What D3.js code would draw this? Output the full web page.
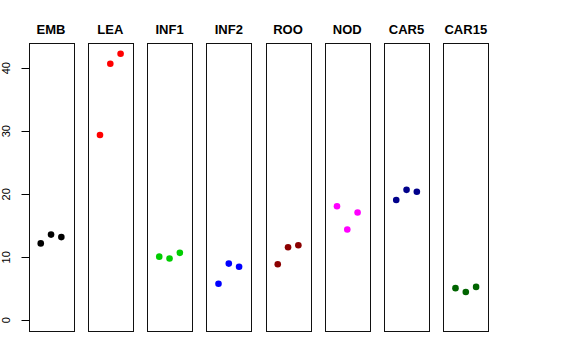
<!DOCTYPE html>
<html><head><meta charset="utf-8">
<script src="https://cdn.jsdelivr.net/npm/d3@7"></script>
<style>body{margin:0;background:#fff}svg{display:block}</style>
</head><body>
<script>
const categories = ["EMB","LEA","INF1","INF2","ROO","NOD","CAR5","CAR15"];
const colors = ["#000000","#FF0000","#00CD00","#0000FF","#8B0000","#FF00FF","#00008B","#006400"];
const values = [
  [12.2, 13.6, 13.2],
  [29.4, 40.7, 42.3],
  [10.1, 9.8, 10.7],
  [5.8, 9.0, 8.5],
  [8.9, 11.6, 11.9],
  [18.1, 14.4, 17.1],
  [19.1, 20.7, 20.4],
  [5.1, 4.5, 5.3]
];
const yTicks = [0, 10, 20, 30, 40];

const W = 576, H = 360;
const svg = d3.select("body").append("svg").attr("width", W).attr("height", H);

const plotTop = 43, plotBottom = 330.7;
const y = d3.scaleLinear().domain([-1.65, 44.0]).range([plotBottom, plotTop]);
const panelW = 44.7, step = 59.25, left0 = 28.7;

categories.forEach((cat, i) => {
  const x0 = left0 + i * step;
  const x = d3.scaleLinear().domain([-0.17, 4.17]).range([x0, x0 + panelW]);
  const g = svg.append("g");
  g.append("rect").attr("x", Math.round(x0) + 0.5).attr("y", Math.round(plotTop) + 0.5)
    .attr("width", Math.round(panelW)).attr("height", Math.round(plotBottom - plotTop))
    .attr("fill", "none").attr("stroke", "#111").attr("stroke-width", 1);
  g.append("text").attr("x", x0 + panelW / 2).attr("y", 34)
    .attr("text-anchor", "middle").attr("font-family", "Liberation Sans, Arial, sans-serif")
    .attr("font-weight", "bold").attr("font-size", 13).text(cat);
  g.selectAll("circle").data(values[i]).enter().append("circle")
    .attr("cx", (d, j) => x(j + 1)).attr("cy", d => y(d)).attr("r", 3.3)
    .attr("fill", colors[i]);
});

const axis = d3.axisLeft(y).tickValues(yTicks).tickSize(7).tickPadding(5);
const ag = svg.append("g").attr("transform", `translate(${Math.round(left0) + 0.5},0)`).call(axis);
ag.select(".domain").remove();
ag.selectAll(".tick").attr("transform", null);
ag.selectAll(".tick line").attr("stroke", "#000")
  .attr("x1", -8).attr("x2", 0)
  .attr("y1", d => Math.round(y(d)) + 0.5).attr("y2", d => Math.round(y(d)) + 0.5);
ag.selectAll(".tick text").attr("font-family", "Liberation Sans, Arial, sans-serif").attr("font-size", 11)
  .attr("fill", "#000").attr("text-anchor", "middle").attr("dy", null)
  .attr("x", 0).attr("y", 0)
  .attr("transform", d => `translate(-19.5, ${y(d)}) rotate(-90)`);
</script>
</body></html>
